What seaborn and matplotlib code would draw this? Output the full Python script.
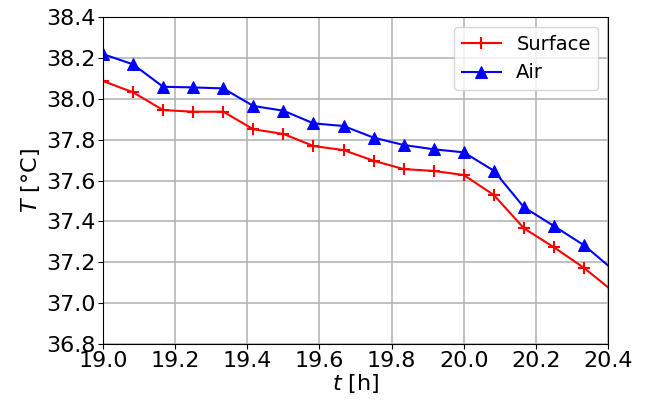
import numpy as np
import pandas as pd
import matplotlib
matplotlib.use("Agg")
import matplotlib.pyplot as plt
import seaborn as sns

# Sampling times every 5 minutes, in hours
t_hours = [19.0, 19.0833, 19.1667, 19.25, 19.3333, 19.4167, 19.5, 19.5833,
           19.6667, 19.75, 19.8333, 19.9167, 20.0, 20.0833, 20.1667, 20.25,
           20.3333, 20.4167]
surface_temp = [38.087, 38.032, 37.945, 37.937, 37.937, 37.851, 37.828, 37.769,
                37.749, 37.697, 37.656, 37.647, 37.627, 37.529, 37.366, 37.273,
                37.172, 37.053]
air_temp = [38.219, 38.169, 38.059, 38.056, 38.051, 37.965, 37.942, 37.880,
            37.867, 37.810, 37.774, 37.753, 37.738, 37.648, 37.469, 37.377,
            37.283, 37.159]

x_ticks = [19.0, 19.2, 19.4, 19.6, 19.8, 20.0, 20.2, 20.4]
y_ticks = [36.8, 37.0, 37.2, 37.4, 37.6, 37.8, 38.0, 38.2, 38.4]

df = pd.DataFrame({"t": t_hours, "Surface": surface_temp, "Air": air_temp})

plt.rcParams["font.family"] = ["DejaVu Sans"]
plt.rcParams["font.size"] = 16

fig = plt.figure(figsize=(6.46, 4.08), dpi=100)
ax = fig.add_axes([0.1594, 0.157, 0.782, 0.801])

sns.lineplot(data=df, x="t", y="Surface", ax=ax, color="red", marker="+",
             markersize=8, markeredgewidth=1.5, markeredgecolor="red",
             linewidth=1.5, label="Surface")
sns.lineplot(data=df, x="t", y="Air", ax=ax, color="blue", marker="^",
             markersize=8, markeredgecolor="blue", linewidth=1.5, label="Air")

ax.set_xlim(19.0, 20.4)
ax.set_ylim(36.8, 38.4)
ax.set_xticks(x_ticks)
ax.set_yticks(y_ticks)
ax.set_xticklabels([f"{v:.1f}" for v in x_ticks], fontsize=16)
ax.set_yticklabels([f"{v:.1f}" for v in y_ticks], fontsize=16)
ax.tick_params(length=3.5, pad=1.5)
ax.grid(True, color="#b0b0b0", linewidth=1.1)
ax.set_axisbelow(True)
for s in ax.spines.values():
    s.set_color("black")
ax.set_xlabel(r"$t$ [h]", fontsize=16, labelpad=1)
ax.set_ylabel(r"$T$ [°C]", fontsize=16, labelpad=3)
ax.legend(loc="upper right", fontsize=14, framealpha=0.8,
          borderaxespad=0.5, handlelength=2.0)

fig.savefig("out.png", dpi=100)
